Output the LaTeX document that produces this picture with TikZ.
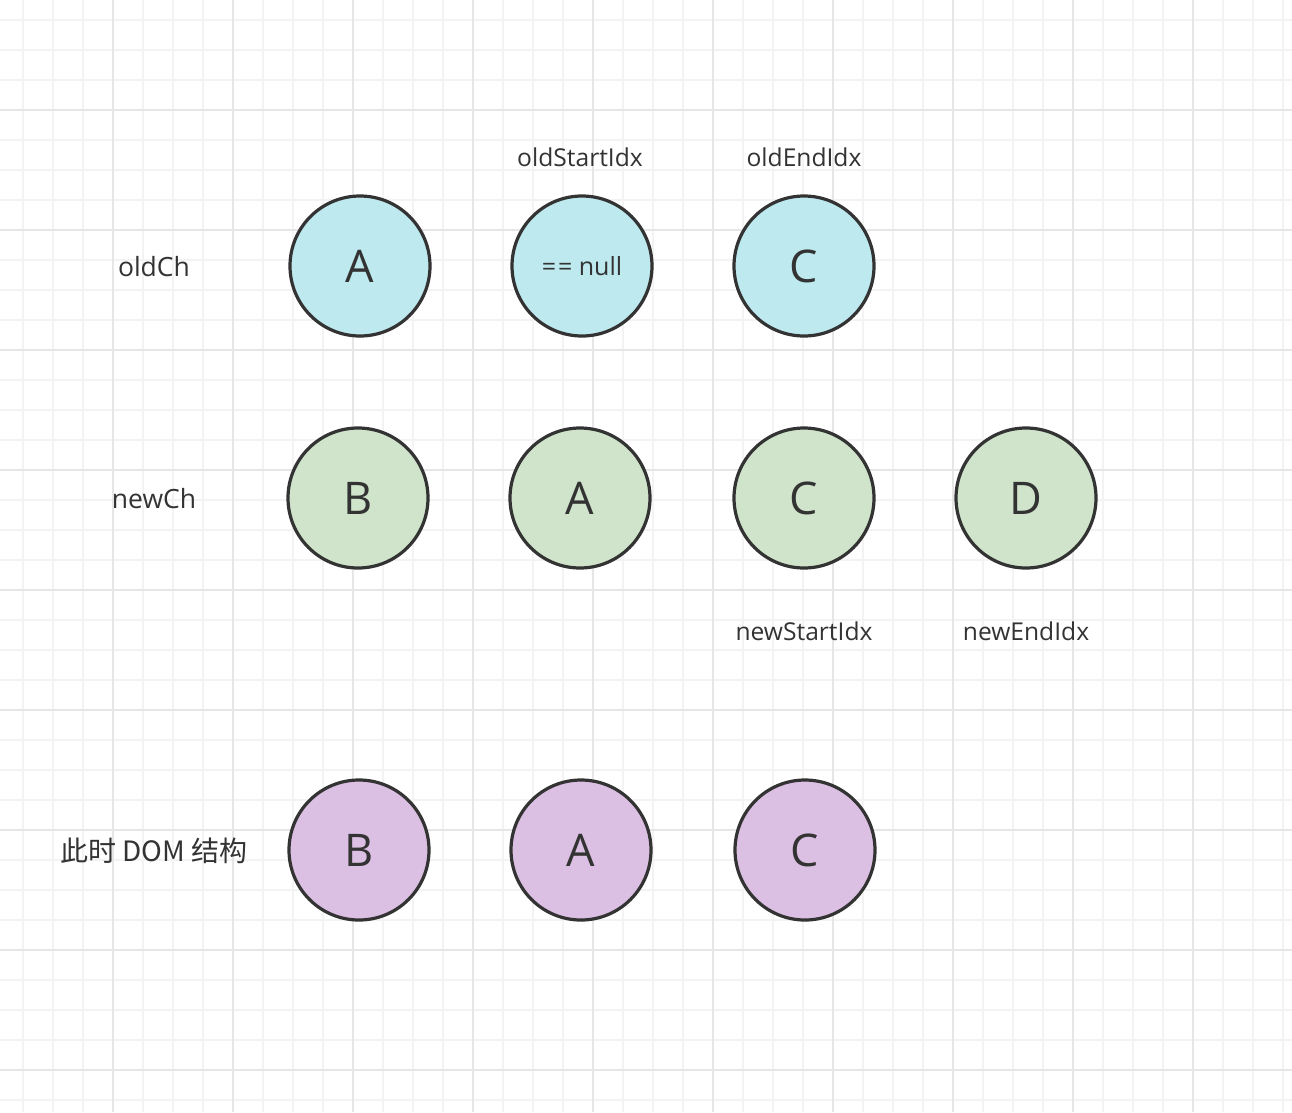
\documentclass[tikz,border=0pt]{standalone}
\usepackage{fontspec}
\setmainfont{Open Sans}
\newfontfamily\cjk{Noto Sans CJK SC}
\definecolor{gminor}{HTML}{F3F3F3}
\definecolor{gmajor}{HTML}{E6E6E6}
\definecolor{ink}{HTML}{333333}
\definecolor{cyanf}{HTML}{BDE9EF}
\definecolor{greenf}{HTML}{CFE4CB}
\definecolor{purplef}{HTML}{DBC0E3}
\tikzset{
  ball/.style={circle, draw=ink, line width=3.2pt, minimum size=140pt, inner sep=0pt, text=ink, font=\fontsize{45}{45}\selectfont},
  oldball/.style={ball, fill=cyanf},
  newball/.style={ball, fill=greenf},
  domball/.style={ball, fill=purplef},
  lbl/.style={text=ink, font=\fontsize{26.5}{26.5}\selectfont, inner sep=0pt},
  idxlbl/.style={lbl, font=\fontsize{24.6}{24.6}\selectfont},
}
\begin{document}
\begin{tikzpicture}[x=1pt,y=-1pt]
\useasboundingbox (0,0) rectangle (1292,1112);
\fill[white] (0,0) rectangle (1292,1112);
% grid
\foreach \x in {23,53,...,1283} \draw[gminor, line width=2pt] (\x,0) -- (\x,1112);
\foreach \y in {20,50,...,1100} \draw[gminor, line width=2pt] (0,\y) -- (1292,\y);
\foreach \x in {113,233,...,1193} \draw[gmajor, line width=2pt] (\x,0) -- (\x,1112);
\foreach \y in {110,230,...,1070} \draw[gmajor, line width=2pt] (0,\y) -- (1292,\y);
% old row
\node[oldball] (oA) at (360,266) {A};
\node[oldball, font=\fontsize{25}{25}\selectfont] (oN) at (582,266) {=\kern2pt= null};
\node[oldball] (oC) at (804,266) {C};
% new row
\node[newball] (nB) at (358,498) {B};
\node[newball] (nA) at (580,498) {A};
\node[newball] (nC) at (804,498) {C};
\node[newball] (nD) at (1026,498) {D};
% dom row
\node[domball] (dB) at (359,850) {B};
\node[domball] (dA) at (581,850) {A};
\node[domball] (dC) at (805,850) {C};
% labels
\node[lbl] (lOldCh) at (154,267) {oldCh};
\node[lbl] (lNewCh) at (154,499) {newCh};
\node[lbl, font=\fontsize{28}{28}\selectfont] (lDom) at (154,851) {\cjk 此时 DOM 结构};
\node[idxlbl] (lOS) at (580,157) {oldStartIdx};
\node[idxlbl] (lOE) at (804,157) {oldEndIdx};
\node[idxlbl] (lNS) at (804,631) {newStartIdx};
\node[idxlbl] (lNE) at (1026,631) {newEndIdx};
\end{tikzpicture}
\end{document}
